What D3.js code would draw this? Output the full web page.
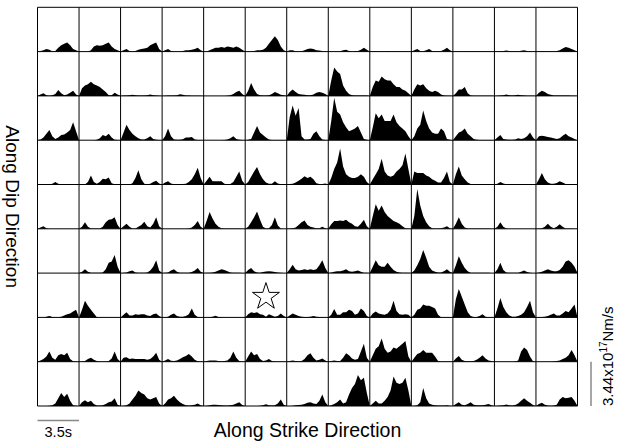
<!DOCTYPE html>
<html><head><meta charset="utf-8">
<script src="https://cdn.jsdelivr.net/npm/d3@7"></script>
<style>
body{margin:0;background:#fff}
svg{display:block}
text{font-family:"Liberation Sans",Arial,Helvetica,sans-serif;fill:#000}
</style>
</head><body>
<svg id="chart" width="618" height="443"></svg>
<script>
// time samples (s) of each subfault moment-rate function (cell spans 3.5 s)
const timeSamples = [0,0.25,0.5,0.75,1,1.25,1.5,1.75,2,2.25,2.5,2.75,3,3.25,3.5];
// subfault indices
const strikeCells = [1,2,3,4,5,6,7,8,9,10,11,12,13];
const dipCells = [1,2,3,4,5,6,7,8,9];
// moment rate, units of 1e16 Nm/s; one array per subfault, rows top (shallow) to bottom
const dipRow1 = [
 [0,0.5,1,2,1.5,0.3,0.5,3,5,6,7,5,2,1,0],
 [0,0,0,0,1,4,5,4.5,5,6,7,4,2,1,0],
 [0,1,2,0.5,0,0.5,1.5,2,2.5,3,5,6,7,2,0],
 [0,1,2,0.5,0,0,0,0.5,1,1,1.5,2,3,1,0],
 [0,0,1,2,3,3,3.5,3,4,3.5,3,4,3,1.5,0],
 [0,0,0,0.5,1,1,1.5,3,6,9,12,9,4,1,0],
 [0,1,1,0.3,0,0.3,1,2,2.5,2,1,0.8,0.5,0.2,0],
 [0,0,0,0,0.3,1,1.5,0.5,0,0.2,0.5,1.5,3,1.5,0],
 [0,0.2,0.2,0.2,0.2,0.3,0.5,0.3,0.2,0.2,0.2,0.2,0.2,0.1,0],
 [0,1,2,0.5,0.3,1,2,0.5,0.3,0.3,0.5,1.5,3,1,0],
 [0,0.1,0.2,0.2,0.2,0.2,0.2,0.2,0.2,0.2,0.2,0.2,0.2,0.1,0],
 [0,0.2,0.3,0.5,0.8,0.5,0.3,0.2,0.3,0.6,1,0.4,0.2,0.1,0],
 [0,0.3,0.5,0.3,0.2,0.2,0.3,0.5,1,2.5,3.5,3,2,1,0]
];
const dipRow2 = [
 [0,1,2,0.5,0.2,0.5,1.5,4.5,2,0.5,1,2.5,4,1,0],
 [0,6,8,9,11,9,8,7,5,3,0.5,0.5,2.5,1,0],
 [0,0.3,0.3,0.5,0.8,0.5,0.3,0.3,0.4,0.6,1,0.5,0.3,0.2,0],
 [0,0.2,0.3,0.3,0.4,0.6,1.2,0.8,0.4,0.3,0.2,0.2,0.2,0.1,0],
 [0,0,0,0,0,0,0,0,0.2,0.5,1.5,3,4,1.5,0],
 [0,4,10,5,1.5,0.5,0.3,0.3,0.5,1.5,3,2,0.8,0.5,0],
 [0,3,5,3,1.5,1,0.8,0.5,0.5,1,2.5,3,2.5,1.5,0],
 [0,12,22,19,17,8,4,1.5,0.5,0.3,0.3,0.3,0.3,0.3,0],
 [0,7,12,11,15,13,12,12,9,7,7,5,4,2,0],
 [0,5,9,8,9,6,4,3,4,3,1,0.3,0.2,0.2,0],
 [0,2,5,5,7,2,0.3,0.2,0.2,0.2,0.2,0.2,0.2,0.1,0],
 [0,0.2,0.3,0.5,1,0.6,0.4,0.5,0.8,0.5,0.3,0.2,0.2,0.1,0],
 [0,2.5,4,3,1.5,0.8,0.4,0.3,0.3,0.3,0.3,0.3,0.2,0.1,0]
];
const dipRow3 = [
 [0,0.5,2,5,8,3,1,2,4,4.5,6,8,14,7,0],
 [0,0,0,0,0,0,0.3,1.5,4,3,5,2,0.3,0.2,0],
 [0,6,12,8,5,3,1.5,0.5,0.5,1.5,3,1,0.3,0.2,0],
 [0,3,9,3,0.5,0.3,0.3,0.8,2,2,2.5,0.5,0.2,0.1,0],
 [0,0,0,0,0,0,0,0.2,0.5,1.5,3,1,0.3,0.2,0],
 [0,0.3,1,6,11,6,4,2,0.5,0.2,0.2,0.2,0.2,0.1,0],
 [0,18,27,19,25,3,0.5,0.5,1,5,7,3,0.5,0.2,0],
 [0,15,33,22,20,14,10,7,8,9,11,6,1,0.3,0],
 [0,10,21,17,20,15,15,15,20,14,11,9,7,3,0],
 [0,3,9,12,23,15,9,6,5,5,9,7,1,0.3,0],
 [0,3,6,7,9,5,3,1,0.3,0.2,0.2,0.2,0.2,0.1,0],
 [0,2,4,1,0.5,0.3,0.3,0.5,1.5,1,1.5,3,6,2,0],
 [0,3,3.5,3,2.5,2,1.5,1,1.5,3.5,5,3,2,1,0]
];
const dipRow4 = [
 [0,0,0,0,0,0.5,2,0.5,0,0,0,0,0,0,0],
 [0,0,0,2,7,2,0.5,2,4.5,4,5.5,1,0.2,0.1,0],
 [0,0,0,0,1,5,11,4,0.5,0.2,0.5,2,3,0.8,0],
 [0,1.5,2.5,0.8,0.2,0.2,0.2,0.3,0.5,2,4,8,13,5,0],
 [0,3,6,2.5,2.5,2.5,2.5,0.5,0.2,0.3,2,6,10,3,0],
 [0,2,6,10,13.5,8,4,1.5,0.5,0.5,2.5,0.8,0.2,0.1,0],
 [0,0.3,0.5,1.5,3,4.5,6.5,5,6,4,1,0.3,0.3,0.8,0],
 [0,5,12,17,28,14,8,6,5,5,6,8,6,2,0],
 [0,4,8,12,20,10,7,6,7,10,12,15,24,12,0],
 [0,10,9,9,9,7,6,4,3,1.5,1.5,5,10,2,0],
 [0,8,14,7,4,1.5,0.3,0,0,0,0,0,0,0,0],
 [0,0.5,2,0.8,0.2,0,0,0,0,0,0,0,0,0,0],
 [0,4,9,4,1.5,0.5,0.5,1.2,2.5,1.5,0.3,0.2,0.2,0.1,0]
];
const dipRow5 = [
 [0,1,2,0.5,0,0,0,0,0,0,0,0,0,0,0],
 [0,1.5,5,1.5,0.3,0.2,0.2,0.3,1.5,5,7,7.5,9,3,0],
 [0,2,4,1.5,0.3,0.2,1.5,3,5.5,2,1,4,9,2,0],
 [0,0,0,0,0,0,0,0,0,0.3,1,3,6,1.5,0],
 [0,6,13,8,4,1.5,0.5,0.2,0.2,0.2,0.2,0.2,0.2,0.1,0],
 [0,1.5,5,9,13.5,7,1.5,0.3,0.5,3,9,2.5,0.3,0.1,0],
 [0,0.2,0.5,1,3,5,6.5,3,1.5,1,0.5,0.5,1.5,0.5,0],
 [0,3.5,6,6,6.5,6,7,5,4,2,1.5,4,7,2,0],
 [0,10,19,14,18,13,10,8,6,5,4,2,0.5,0.2,0],
 [0,10,31,18,10,5,2,0.5,0.3,0.3,0.5,1,2,0.5,0],
 [0,4,9,4,1,0.3,0.2,0.2,0.2,0.2,0.2,0.2,0.2,0.1,0],
 [0,1.5,5,1.5,0.3,0.1,0.1,0.1,0.1,0.1,0.1,0.1,0.1,0.1,0],
 [0,0.2,0.5,1.5,4,1.5,0.5,1.5,3.5,1.5,0.3,0.2,0.2,0.1,0]
];
const dipRow6 = [
 [0,0,0,0,0,0,0,0,0,0,0,0,0,0,0],
 [0,1,3,1,0.3,0.2,0.2,0.2,0.5,3,8,9,14,5,0],
 [0,0.2,0.5,1.5,2,0.5,0.2,0.2,0.3,0.5,2,5,10,2,0],
 [0,0.2,0.5,2,3,1,0.3,0.2,0.2,0.3,0.8,2,4,1,0],
 [0,0.2,0.3,0.5,1,2,3,2.5,1.5,0.5,0.3,0.2,0.2,0.1,0],
 [0,2.5,4,1.5,0.5,0.3,0.8,1.2,1.5,1.2,0.8,0.4,0.2,0.1,0],
 [0,3,6.5,3,2,2.5,3,2.5,3,2.5,3,6,10,4,0],
 [0,0.5,1,1.5,1.5,2,3,1.5,1,1.5,2,1,0.3,0.2,0],
 [0,5,10,6,5,5,8,5,2.5,1,0.5,0.3,0.3,0.2,0],
 [0,2,6,11,18,12,5,2,1,0.5,0.5,1.5,3,1,0],
 [0,6,13,8,4,1.5,0.3,0.2,0.2,0.2,0.2,0.2,0.2,0.1,0],
 [0,3,8,2.5,0.5,0.2,0.2,0.2,0.3,1,2,0.8,0.2,0.1,0],
 [0,0.5,1,2,3,2,1.5,1.5,2.5,5,9,10,8,5,0]
];
const dipRow7 = [
 [0,0,0,0.5,1,0.3,0.2,0.2,0.5,1.5,2.5,3,4.5,6,0],
 [0,6,13,9,6,3,0.2,0,0,0,0,0,0,0,0],
 [0,2,4,1.5,1.5,2.5,2,2.5,2.5,1.5,1,2.5,3,1,0],
 [0,0.2,0.5,2,3,1,0.5,0.5,1,2.5,7,2,0.3,0.1,0],
 [0,0,0.2,0.5,1.3,0.3,0.1,0,0,0,0,0,0,0,0],
 [0,2.5,4,3.5,4,2.5,2,0.5,2.5,1.5,0.5,1,3,1,0],
 [0,1.5,3,2,1,0.5,0.3,0.3,0.5,1,0.5,0.3,0.2,0.1,0],
 [0,2,6.5,2,2,4,4,6,5,2,3,7,5,1,0],
 [0,3,4.5,3,2.5,2,3,6,13,5,2.5,2,2.5,2,0],
 [0,2,6,7,10,9,9,8,7,2,0.2,0.2,0.2,0.1,0],
 [0,14,22,16,10,4,1,0.3,0.3,1,2.5,0.5,0.2,0.1,0],
 [0,7,15,8,4,1.5,0.5,0.5,1,2,4,8,13,4,0],
 [0,0.2,0.3,0.5,1,2,3,1.5,1.5,3,5,4,7,10,0]
];
const dipRow8 = [
 [0,1,2,4,8,3,1.5,5,6,5,7,2,0.3,0.1,0],
 [0,0.2,0.5,2,3,1.5,0.5,0.2,0.2,0.2,0.5,2.5,8,2,0],
 [0,3,3.5,2,2.5,2,2,2,2,1.5,2,4,7,1.5,0],
 [0,1,2,0.8,0.5,1,2,3.5,4.5,6,4,1.5,0.3,0.1,0],
 [0,0.5,1,1,1,0.5,0.3,0.5,1,3,8,3,0.5,0.2,0],
 [0,4,8,5,6,2,0.5,1,2,0.5,0.2,0.2,0.2,0.1,0],
 [0,0.5,1,0.5,0.3,0.5,2,5,6.5,3,1,1.5,2.5,1,0],
 [0,0.5,1,0.5,0.5,3,6.5,5,2.5,1.5,2,8,14,3,0],
 [0,5,10,12,18,10,7,8,11,10,12,14,16,4,0],
 [0,3,6,7,9,7,7,7,4,0.5,0.2,0.2,0.2,0.1,0],
 [0,2.5,4.5,1.5,0.5,0.3,0.3,0.5,1.5,3,5,2.5,1,0.5,0],
 [0,0,0,0,0,0,0,0.2,1,8,11,9,4,0.3,0],
 [0,0,0,0,0,0,0.2,0.5,1,2,3,5,9,5,0]
];
const dipRow9 = [
 [0,0,0,0,0.2,0.5,2,6,10,7,9.5,4,0.5,0.1,0],
 [0,3,4.5,3,4,1.5,0.3,0.3,0.5,1.5,3,3.5,6,1,0],
 [0,0.2,0.5,2,5,8,12,10,9,6,5,6,7,2,0],
 [0,2,5,6,8,5,3,1.5,0.5,0.3,0.5,1,2,0.5,0],
 [0,0.2,0.5,1,1,0.8,0.5,0.3,0.3,0.5,1,2,3,0.8,0],
 [0,0,0,0,0,0.2,0.5,1.3,0.5,0.3,0.5,2,5,1,0],
 [0,0,0.2,0.5,0.8,1,1.5,2.5,3,2,1.5,4,9,3,0],
 [0,0.5,1.5,3,5,2,3,9,14,17,24,20,22,10,0],
 [0,2,4,2,2,4,7,12,23,18,17,18,22,12,0],
 [0,0.2,0.5,3,14,6,2,1,0.5,0.3,0.3,0.3,0.5,0.2,0],
 [0,1.5,3,1,0.5,1.5,3,1,0.5,0.5,0.5,1,1.5,0.5,0],
 [0,0.2,0.3,0.6,1.2,0.5,0.3,0.8,2,4,6,4,2.5,0.8,0],
 [0,1.5,2.5,1,0.3,0.2,0.3,1,5,7,6,6.5,7,4,0]
];
const hypocenter = {strike: 6, dip: 7};
const cellDuration = 3.5;        // s
const cellMomentRate = 34.4;     // 1e16 Nm/s = 3.44x10^17 Nm/s
const labels = {dip: "Along Dip Direction", strike: "Along Strike Direction", time: "3.5s"};

const rows = [dipRow1, dipRow2, dipRow3, dipRow4, dipRow5, dipRow6, dipRow7, dipRow8, dipRow9];

const svg = d3.select("#chart");
const xCell = d3.scaleBand().domain(strikeCells).range([37.5, 577.5]);
const yCell = d3.scaleBand().domain(dipCells).range([7.3, 406]);
const tScale = d3.scaleLinear().domain([0, cellDuration]).range([0, xCell.bandwidth()]);
const mScale = d3.scaleLinear().domain([0, cellMomentRate]).range([yCell.bandwidth(), 0]);
const area = d3.area()
  .x((d, i) => tScale(timeSamples[i]))
  .y0(mScale(0))
  .y1(d => mScale(d));

rows.forEach((row, r) => {
  row.forEach((vals, c) => {
    svg.append("g")
      .attr("transform", `translate(${xCell(strikeCells[c])},${yCell(dipCells[r])})`)
      .append("path")
      .attr("d", area(vals))
      .attr("fill", "#000");
  });
});

// grid
const gridG = svg.append("g").attr("stroke", "#000").attr("stroke-width", 1).attr("fill", "none");
const xEdges = strikeCells.map(d => xCell(d)).concat([xCell.range()[1]]);
const yEdges = dipCells.map(d => yCell(d)).concat([yCell.range()[1]]);
xEdges.forEach(x => gridG.append("line").attr("x1", x).attr("x2", x).attr("y1", yEdges[0]).attr("y2", yEdges[yEdges.length-1]));
yEdges.forEach(y => gridG.append("line").attr("y1", y).attr("y2", y).attr("x1", xEdges[0]).attr("x2", xEdges[xEdges.length-1]));

// hypocenter star
svg.append("path")
  .attr("d", d3.symbol(d3.symbolStar, 225)())
  .attr("transform", `translate(${xCell(hypocenter.strike) + xCell.bandwidth()/2},${yCell(hypocenter.dip) + yCell.bandwidth()/2 + 1.5})`)
  .attr("fill", "#fff").attr("stroke", "#000").attr("stroke-width", 1);

// axis titles
svg.append("text")
  .attr("transform", `translate(13,${(yEdges[0]+yEdges[yEdges.length-1])/2}) rotate(90)`)
  .attr("text-anchor", "middle").attr("dy", "0.35em")
  .style("font-size", "19px").text(labels.dip);
svg.append("text")
  .attr("x", (xEdges[0] + xEdges[xEdges.length-1]) / 2).attr("y", 437)
  .attr("text-anchor", "middle")
  .style("font-size", "19.5px").text(labels.strike);

// time scale bar
const tx0 = xEdges[0];
svg.append("line")
  .attr("x1", tx0).attr("x2", tx0 + tScale(cellDuration) - tScale(0))
  .attr("y1", 420.5).attr("y2", 420.5)
  .attr("stroke", "#888").attr("stroke-width", 1.5);
svg.append("text")
  .attr("x", tx0 + (tScale(cellDuration) - tScale(0)) / 2).attr("y", 437)
  .attr("text-anchor", "middle").style("font-size", "14.5px").text(labels.time);

// moment-rate scale bar
const mBottom = yEdges[yEdges.length-1];
svg.append("line")
  .attr("x1", 591).attr("x2", 591)
  .attr("y1", mBottom).attr("y2", mBottom - (mScale(0) - mScale(cellMomentRate)))
  .attr("stroke", "#888").attr("stroke-width", 1.5);
const mt = svg.append("text")
  .attr("transform", `translate(613,${mBottom}) rotate(-90)`)
  .attr("text-anchor", "start").style("font-size", "15px");
mt.append("tspan").text("3.44x10");
mt.append("tspan").attr("dy", "-6").style("font-size", "10px").text("17");
mt.append("tspan").attr("dy", "6").text("Nm/s");
</script>
</body></html>
